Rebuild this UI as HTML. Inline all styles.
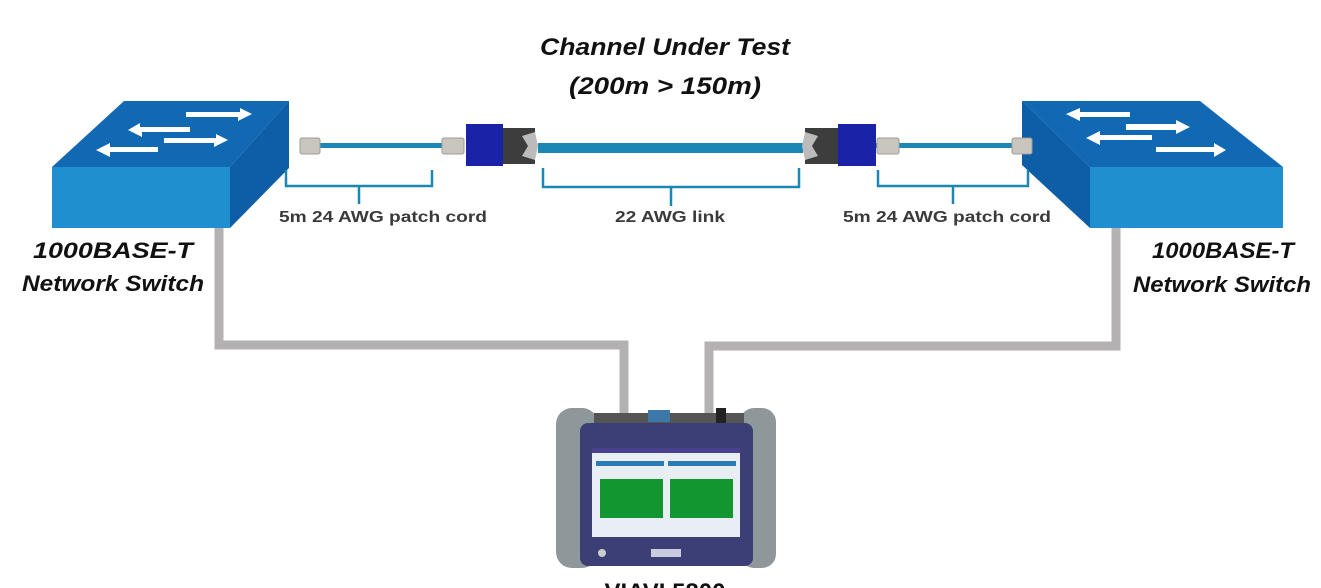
<!DOCTYPE html>
<html><head><meta charset="utf-8"><style>
html,body{margin:0;padding:0;background:#fff;}
svg{display:block;}
.t{font-family:"Liberation Sans",sans-serif;font-weight:bold;font-style:italic;fill:#111;}
.l{font-family:"Liberation Sans",sans-serif;font-weight:bold;fill:#3a3a3a;font-size:16px;}
</style></head><body>
<svg width="1321" height="588" viewBox="0 0 1321 588" xmlns="http://www.w3.org/2000/svg">
<text class="t" x="665" y="55" font-size="24" text-anchor="middle" textLength="250" lengthAdjust="spacingAndGlyphs">Channel Under Test</text>
<text class="t" x="665" y="94" font-size="24" text-anchor="middle" textLength="192" lengthAdjust="spacingAndGlyphs">(200m &gt; 150m)</text>

<polyline points="219,212 219,345 624,345 624,420" fill="none" stroke="#b3b1b1" stroke-width="9"/>
<polyline points="1116,212 1116,346 709,346 709,420" fill="none" stroke="#b3b1b1" stroke-width="9"/>

<polygon points="124,101 289,101 230,167 52,167" fill="#1169b3"/>
<polygon points="289,101 289,168 230,228 230,167" fill="#0d5ea6"/>
<rect x="52" y="167" width="178" height="61" fill="#1f8fd0"/>
<g fill="#fff">
<polygon points="186,112 240,112 240,108 252,114 238,121 238,117 186,117"/>
<polygon points="190,127 140,127 140,123 128,130 142,137 142,132 190,132"/>
<polygon points="164,138 216,138 216,134 228,140 214,147 214,143 164,143"/>
<polygon points="158,147 110,147 110,143 96,150 110,157 110,152 158,152"/>
</g>
<polygon points="1022,101 1200,101 1283,167 1090,167" fill="#1169b3"/>
<polygon points="1022,101 1090,167 1090,228 1022,165" fill="#0d5ea6"/>
<rect x="1090" y="167" width="193" height="61" fill="#1f8fd0"/>
<g fill="#fff">
<polygon points="1130,112 1080,112 1080,108 1066,114 1080,121 1080,117 1130,117"/>
<polygon points="1126,124 1176,124 1176,120 1190,127 1176,134 1176,130 1126,130"/>
<polygon points="1152,135 1100,135 1100,131 1086,138 1100,145 1100,140 1152,140"/>
<polygon points="1156,147 1214,147 1214,143 1226,150 1214,157 1214,152 1156,152"/>
</g>

<rect x="305" y="143" width="140" height="5" fill="#1a87b4"/>
<rect x="876" y="143" width="150" height="5" fill="#1a87b4"/>
<rect x="538" y="143" width="265" height="10" fill="#1a87b4"/>
<g fill="#c9c6c0" stroke="#a09c96" stroke-width="1">
<rect x="300" y="138" width="20" height="16" rx="2"/>
<rect x="442" y="138" width="22" height="16" rx="2"/>
<rect x="877" y="138" width="22" height="16" rx="2"/>
<rect x="1012" y="138" width="20" height="16" rx="2"/>
</g>
<rect x="466" y="124" width="37" height="42" fill="#1a23a8"/>
<rect x="503" y="128" width="32" height="36" fill="#3d3d3d"/>
<polygon points="522,136 535,132 538,146 535,160 522,156 528,146" fill="#bbb"/>
<rect x="838" y="124" width="38" height="42" fill="#1a23a8"/>
<rect x="805" y="128" width="33" height="36" fill="#3d3d3d"/>
<polygon points="818,136 805,132 802,146 805,160 818,156 812,146" fill="#bbb"/>

<g fill="none" stroke="#1a87b4" stroke-width="2.5">
<path d="M286,170 V186 H432 V170 M359,186 V204"/>
<path d="M543,168 V187 H799 V168 M671,187 V206"/>
<path d="M878,170 V186 H1028 V170 M953,186 V204"/>
</g>
<text class="l" x="383" y="222" text-anchor="middle" textLength="208" lengthAdjust="spacingAndGlyphs">5m 24 AWG patch cord</text>
<text class="l" x="670" y="222" text-anchor="middle" textLength="110" lengthAdjust="spacingAndGlyphs">22 AWG link</text>
<text class="l" x="947" y="222" text-anchor="middle" textLength="208" lengthAdjust="spacingAndGlyphs">5m 24 AWG patch cord</text>

<text class="t" x="113" y="258" font-size="22" text-anchor="middle" textLength="160" lengthAdjust="spacingAndGlyphs">1000BASE-T</text>
<text class="t" x="113" y="291" font-size="22" text-anchor="middle" textLength="182" lengthAdjust="spacingAndGlyphs">Network Switch</text>
<text class="t" x="1223" y="258" font-size="22" text-anchor="middle" textLength="142" lengthAdjust="spacingAndGlyphs">1000BASE-T</text>
<text class="t" x="1222" y="292" font-size="22" text-anchor="middle" textLength="178" lengthAdjust="spacingAndGlyphs">Network Switch</text>

<rect x="556" y="408" width="42" height="160" rx="16" fill="#8e9799"/>
<rect x="740" y="408" width="36" height="160" rx="14" fill="#8e9799"/>
<rect x="594" y="413" width="150" height="12" fill="#555"/>
<rect x="648" y="410" width="22" height="12" fill="#3c78a8"/>
<rect x="716" y="408" width="10" height="16" fill="#222"/>
<rect x="580" y="423" width="173" height="143" rx="8" fill="#3c3f75"/>
<rect x="592" y="448" width="148" height="89" fill="#e8eef3"/>
<rect x="592" y="448" width="148" height="5" fill="#4a3e8e"/>
<rect x="596" y="461" width="68" height="5" fill="#2a7ab7"/>
<rect x="668" y="461" width="68" height="5" fill="#2a7ab7"/>
<rect x="600" y="479" width="63" height="39" fill="#12962f"/>
<rect x="670" y="479" width="63" height="39" fill="#12962f"/>
<rect x="651" y="549" width="30" height="8" fill="#c9cbe0"/>
<circle cx="602" cy="553" r="4" fill="#ccc"/>
<text x="665" y="600" font-family="Liberation Sans,sans-serif" font-weight="bold" font-size="24" text-anchor="middle" fill="#111">VIAVI 5800</text>
</svg>
</body></html>
